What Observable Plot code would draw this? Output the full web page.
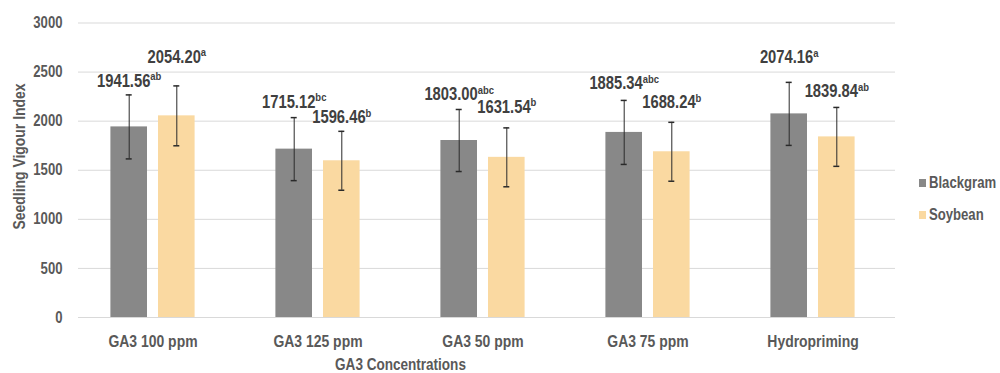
<!DOCTYPE html>
<html>
<head>
<meta charset="utf-8">
<script src="https://cdn.jsdelivr.net/npm/d3@7"></script>
<script src="https://cdn.jsdelivr.net/npm/@observablehq/plot@0.6"></script>
<style>
  body { margin: 0; background: #fff; }
  #wrap { position: relative; width: 1000px; height: 373px; }
  #wrap svg { font-family: "Liberation Sans", Arial, sans-serif; }
  #wrap svg [aria-label="y-axis tick label"] text { fill: #595959; font-weight: bold; font-size: 16px; }
  #wrap svg [aria-label="x-axis tick label"] text { fill: #595959; font-weight: bold; font-size: 17px; }
  .legend { position: absolute; left: 919px; font-family: "Liberation Sans", Arial, sans-serif;
            font-weight: bold; font-size: 16px; color: #595959; display: flex; align-items: center; line-height: 16px; white-space: nowrap; }
  .legend span.sw { display: inline-block; width: 7px; height: 8px; margin-right: 3px; }
  .legend span.tx { display: inline-block; transform: scaleX(0.82); transform-origin: left center; }
</style>
</head>
<body>
<div id="wrap"></div>
<script>
// ---- data ----
const categories = ["GA3 100 ppm", "GA3 125 ppm", "GA3 50 ppm", "GA3 75 ppm", "Hydropriming"];
const seriesNames = ["Blackgram", "Soybean"];
const blackgram = [1941.56, 1715.12, 1803.00, 1885.34, 2074.16];
const soybean = [2054.20, 1596.46, 1631.54, 1688.24, 1839.84];
const blackgramErr = [326, 321, 316, 326, 321];
const soybeanErr = [305, 300, 300, 300, 300];
const blackgramLetters = ["ab", "bc", "abc", "abc", "a"];
const soybeanLetters = ["a", "b", "b", "b", "ab"];
const yTicks = [0, 500, 1000, 1500, 2000, 2500, 3000];
const xTitle = "GA3 Concentrations";
const yTitle = "Seedling Vigour Index";

// ---- layout / style (not data) ----
const colors = {Blackgram: "#888888", Soybean: "#fad9a1"};
const offsets = {Blackgram: -23.8, Soybean: 23.8};
const labelGapBlackgram = [8, 10, 9, 11, 19];
const labelGapSoybean = [23, 8, 15, 14, 10];
const squeeze = 0.82; // narrow font look

const rows = [];
categories.forEach((c, i) => {
  rows.push({cat: c, series: "Blackgram", value: blackgram[i], err: blackgramErr[i], letters: blackgramLetters[i], gap: labelGapBlackgram[i]});
  rows.push({cat: c, series: "Soybean", value: soybean[i], err: soybeanErr[i], letters: soybeanLetters[i], gap: labelGapSoybean[i]});
});

const marks = [
  Plot.gridY(yTicks, {stroke: "#d9d9d9", strokeOpacity: 1, strokeWidth: 1}),
];
for (const s of seriesNames) {
  const data = rows.filter(r => r.series === s);
  marks.push(Plot.barY(data, {x: "cat", y: "value", fill: colors[s], dx: offsets[s], insetLeft: 64.2, insetRight: 64.2}));
  marks.push(Plot.ruleX(data, {x: "cat", y1: d => d.value - d.err, y2: d => d.value + d.err, dx: offsets[s], stroke: "#2a2a2a", strokeWidth: 1}));
  marks.push(Plot.tickY(data, {x: "cat", y: d => d.value + d.err, dx: offsets[s], insetLeft: 79.5, insetRight: 79.5, stroke: "#2a2a2a", strokeWidth: 1.5}));
  marks.push(Plot.tickY(data, {x: "cat", y: d => d.value - d.err, dx: offsets[s], insetLeft: 79.5, insetRight: 79.5, stroke: "#2a2a2a", strokeWidth: 1.5}));
}
for (const r of rows) {
  marks.push(Plot.text([r], {
    x: "cat", y: d => d.value + d.err, dx: offsets[r.series], dy: -r.gap,
    text: d => d.value.toFixed(2) + "|" + d.letters,
    lineAnchor: "bottom", textAnchor: "middle", fontSize: 18, fontWeight: "bold", fill: "#404040"
  }));
}
marks.push(Plot.axisY({ticks: yTicks, tickFormat: d => String(d), tickSize: 0, tickPadding: 16, label: null}));
marks.push(Plot.axisX({tickSize: 0, tickPadding: 17, label: null}));
marks.push(Plot.text([xTitle], {frameAnchor: "bottom", dx: -86.5, dy: 52, lineAnchor: "bottom", fontSize: 16.5, fontWeight: "bold", fill: "#595959"}));
marks.push(Plot.text([yTitle], {frameAnchor: "left", rotate: -90, dx: -59, dy: -13.75, lineAnchor: "middle", textAnchor: "middle", fontSize: 17, fontWeight: "bold", fill: "#595959"}));

const chart = Plot.plot({
  width: 1000,
  height: 373,
  marginLeft: 78,
  marginRight: 105,
  marginTop: 22.5,
  marginBottom: 56,
  x: {domain: categories, range: [70, 895], padding: 0},
  y: {domain: [0, 3000]},
  marks
});

// superscript significance letters
chart.querySelectorAll("text").forEach(t => {
  const s = t.textContent;
  if (s.includes("|") && t.children.length === 0) {
    const [main, sup] = s.split("|");
    t.textContent = main;
    const ts = document.createElementNS("http://www.w3.org/2000/svg", "tspan");
    ts.setAttribute("dy", "-6.5");
    ts.setAttribute("font-size", "11.5");
    ts.textContent = sup;
    t.appendChild(ts);
  }
});

const wrap = document.getElementById("wrap");
wrap.appendChild(chart);

// condense all chart texts (Calibri-like narrow look)
chart.querySelectorAll("text").forEach(t => {
  const L = t.getComputedTextLength();
  if (L > 0) {
    t.setAttribute("textLength", (L * squeeze).toFixed(2));
    t.setAttribute("lengthAdjust", "spacingAndGlyphs");
  }
});

// legend
const legendTops = {Blackgram: 175, Soybean: 207};
for (const s of seriesNames) {
  const d = document.createElement("div");
  d.className = "legend";
  d.style.top = legendTops[s] + "px";
  d.innerHTML = `<span class="sw" style="background:${colors[s]}"></span><span class="tx">${s}</span>`;
  wrap.appendChild(d);
}
</script>
</body>
</html>
